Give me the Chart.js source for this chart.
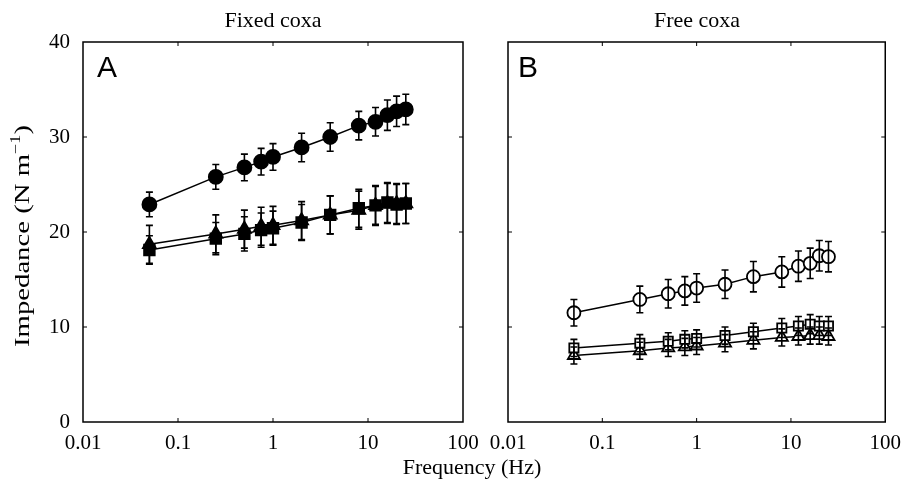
<!DOCTYPE html>
<html>
<head>
<meta charset="utf-8">
<script src="https://cdn.jsdelivr.net/npm/chart.js@4/dist/chart.umd.min.js"></script>
<style>
  body { margin: 0; background: #fff; width: 902px; height: 483px; position: relative; overflow: hidden; font-family: "Liberation Serif", serif; }
  .panel { position: absolute; top: 0; height: 483px; }
  #left { left: 0; width: 490px; }
  #right { left: 470px; width: 432px; }
  .lbl { position: absolute; font-size: 22px; line-height: 24px; color: #000; white-space: nowrap; transform: translateX(-50%); }
</style>
</head>
<body>
<div class="panel" id="left"><canvas id="fixed"></canvas></div>
<div class="panel" id="right"><canvas id="free"></canvas></div>
<div class="lbl" style="left:273px; top:8px;">Fixed coxa</div>
<div class="lbl" style="left:697px; top:8px;">Free coxa</div>
<div class="lbl" style="left:472px; top:455px;">Frequency (Hz)</div>
<script>
const freq = [0.05, 0.25, 0.5, 0.75, 1, 2, 4, 8, 12, 16, 20, 25];
const xTicks = [0.01, 0.1, 1, 10, 100];
const yTicks = [0, 10, 20, 30, 40];

// fixed coxa (panel A)
const fixedCircle = [22.9, 25.8, 26.8, 27.4, 27.9, 28.9, 30.0, 31.2, 31.6, 32.3, 32.7, 32.9];
const fixedCircleErr = [1.3, 1.3, 1.4, 1.4, 1.4, 1.5, 1.5, 1.5, 1.5, 1.6, 1.6, 1.6];
const fixedSquare = [18.1, 19.3, 19.8, 20.2, 20.4, 21.0, 21.8, 22.5, 22.8, 23.1, 22.9, 23.0];
const fixedSquareErr = [1.5, 1.7, 1.8, 1.8, 1.8, 1.9, 2.0, 2.0, 2.1, 2.1, 2.1, 2.1];
const fixedTriangle = [18.7, 19.8, 20.3, 20.6, 20.7, 21.2, 21.8, 22.3, 22.8, 23.0, 23.0, 23.0];
const fixedTriangleErr = [2.0, 2.0, 2.0, 2.0, 2.0, 2.0, 2.0, 2.0, 2.0, 2.1, 2.1, 2.1];

// free coxa (panel B)
const freeCircle = [11.5, 12.9, 13.5, 13.8, 14.1, 14.5, 15.3, 15.8, 16.4, 16.7, 17.5, 17.4];
const freeCircleErr = [1.4, 1.4, 1.5, 1.5, 1.5, 1.5, 1.6, 1.6, 1.6, 1.6, 1.6, 1.6];
const freeSquare = [7.8, 8.3, 8.5, 8.7, 8.8, 9.1, 9.5, 9.9, 10.1, 10.3, 10.1, 10.1];
const freeSquareErr = [0.9, 0.9, 0.9, 0.9, 0.9, 0.9, 0.9, 1.0, 1.0, 1.0, 1.0, 1.0];
const freeTriangle = [7.0, 7.5, 7.8, 7.9, 8.0, 8.3, 8.6, 8.9, 9.0, 9.1, 9.1, 9.0];
const freeTriangleErr = [0.9, 0.9, 0.9, 0.9, 0.9, 0.9, 0.9, 0.9, 0.9, 0.9, 0.9, 0.9];

const pts = arr => arr.map((v, i) => ({ x: freq[i], y: v }));

function series(values, errs, style, radius, filled) {
    return {
        data: pts(values),
        errors: errs,
        borderColor: '#000',
        borderWidth: 1.5,
        pointStyle: style,
        pointRadius: radius,
        pointBorderWidth: 1.8,
        pointBorderColor: '#000',
        pointBackgroundColor: filled ? '#000' : '#fff',
        tension: 0,
        fill: false
    };
}

// vertical error bars drawn from the dataset errors through the y scale
const errorBars = {
    id: 'errorBars',
    afterDatasetsDraw(chart) {
        const c = chart.ctx;
        const y = chart.scales.y;
        c.save();
        c.strokeStyle = '#000';
        c.lineWidth = 1.6;
        chart.data.datasets.forEach((ds, i) => {
            const meta = chart.getDatasetMeta(i);
            meta.data.forEach((p, j) => {
                const v = ds.data[j].y, e = ds.errors[j];
                const top = y.getPixelForValue(v + e), bot = y.getPixelForValue(v - e);
                c.beginPath();
                c.moveTo(p.x, top); c.lineTo(p.x, bot);
                c.moveTo(p.x - 3.5, top); c.lineTo(p.x + 3.5, top);
                c.moveTo(p.x - 3.5, bot); c.lineTo(p.x + 3.5, bot);
                c.stroke();
            });
        });
        c.restore();
    }
};

// box around the plot with inward ticks, panel letter and the y title with superscript
const frame = {
    id: 'frame',
    afterDraw(chart, args, opts) {
        const c = chart.ctx, a = chart.chartArea;
        const x = chart.scales.x, y = chart.scales.y;
        c.save();
        c.strokeStyle = '#000';
        c.lineWidth = 1.5;
        c.strokeRect(a.left, a.top, a.right - a.left, a.bottom - a.top);
        c.lineWidth = 1;
        c.beginPath();
        xTicks.slice(1, -1).forEach(v => {
            const px = x.getPixelForValue(v);
            c.moveTo(px, a.bottom); c.lineTo(px, a.bottom - 4);
            c.moveTo(px, a.top); c.lineTo(px, a.top + 4);
        });
        yTicks.slice(1, -1).forEach(v => {
            const py = y.getPixelForValue(v);
            c.moveTo(a.left, py); c.lineTo(a.left + 4, py);
            c.moveTo(a.right, py); c.lineTo(a.right - 4, py);
        });
        c.stroke();
        c.fillStyle = '#000';
        c.font = '30px "Liberation Sans"';
        c.textBaseline = 'alphabetic';
        c.fillText(opts.letter, a.left + opts.letterDx, a.top + 35);

        if (opts.yTitle) {
            const main = 'Impedance (N m', sup = '\u22121', tail = ')';
            c.font = '22px "Liberation Serif"';
            const w1 = c.measureText(main).width, w3 = c.measureText(tail).width;
            c.font = '14px "Liberation Serif"';
            const w2 = c.measureText(sup).width;
            const total = w1 + w2 + w3;
            const len = 222;
            c.translate(29, 236);
            c.rotate(-Math.PI / 2);
            c.scale(len / total, 1);
            let px = -total / 2;
            c.font = '22px "Liberation Serif"';
            c.fillText(main, px, 0);
            px += w1;
            c.font = '14px "Liberation Serif"';
            c.fillText(sup, px, -9);
            px += w2;
            c.font = '22px "Liberation Serif"';
            c.fillText(tail, px, 0);
        }
        c.restore();
    }
};

function makeOptions(letter, letterDx, showY, padRight) {
    return {
        responsive: true,
        maintainAspectRatio: false,
        animation: false,
        layout: { padding: { top: 42, right: padRight, bottom: 21, left: 0 } },
        plugins: {
            legend: { display: false },
            tooltip: { enabled: false },
            frame: { letter: letter, letterDx: letterDx, yTitle: showY }
        },
        scales: {
            x: {
                type: 'logarithmic',
                min: 0.01,
                max: 100,
                grid: { display: false },
                border: { display: false },
                afterBuildTicks: s => { s.ticks = xTicks.map(v => ({ value: v })); },
                afterFit: s => { s.height = 40; },
                ticks: {
                    maxRotation: 0,
                    padding: 1,
                    color: '#000',
                    font: { family: 'Liberation Serif', size: 21 },
                    callback: v => String(v)
                }
            },
            y: {
                min: 0,
                max: 40,
                grid: { display: false },
                border: { display: false },
                afterBuildTicks: s => { s.ticks = yTicks.map(v => ({ value: v })); },
                afterFit: s => { s.width = showY ? 83 : 38; },
                ticks: {
                    display: showY,
                    padding: 5,
                    color: '#000',
                    font: { family: 'Liberation Serif', size: 21 }
                }
            }
        }
    };
}

new Chart(document.getElementById('fixed'), {
    type: 'line',
    data: {
        datasets: [
            series(fixedCircle, fixedCircleErr, 'circle', 7, true),
            series(fixedSquare, fixedSquareErr, 'rect', 7.5, true),
            series(fixedTriangle, fixedTriangleErr, 'triangle', 7.5, true)
        ]
    },
    options: makeOptions('A', 14, true, 27),
    plugins: [errorBars, frame]
});

new Chart(document.getElementById('free'), {
    type: 'line',
    data: {
        datasets: [
            series(freeCircle, freeCircleErr, 'circle', 6.5, false),
            series(freeSquare, freeSquareErr, 'rect', 6.5, false),
            series(freeTriangle, freeTriangleErr, 'triangle', 7, false)
        ]
    },
    options: makeOptions('B', 10, false, 16),
    plugins: [errorBars, frame]
});
</script>
</body>
</html>
